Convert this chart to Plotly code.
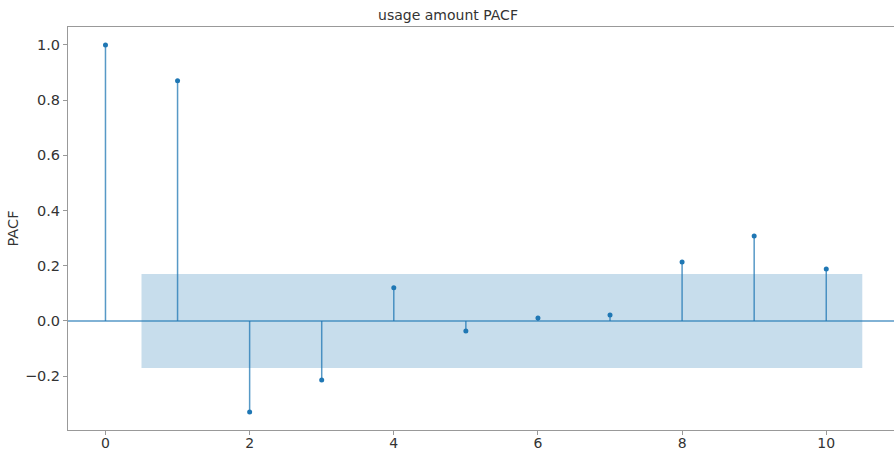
import plotly.graph_objects as go

lags = [0, 1, 2, 3, 4, 5, 6, 7, 8, 9, 10]
pacf = [1.0, 0.87, -0.33, -0.214, 0.12, -0.036, 0.011, 0.022, 0.214, 0.308, 0.188]
conf_lags = [0.5, 10.5]
conf = [0.17, 0.17]
x_ticks = [0, 2, 4, 6, 8, 10]
y_ticks = [-0.2, 0.0, 0.2, 0.4, 0.6, 0.8, 1.0]

blue = "#1f77b4"
font = "DejaVu Sans"

fig = go.Figure()

# confidence band
bx = conf_lags + conf_lags[::-1]
by = conf + [-c for c in conf[::-1]]
fig.add_trace(go.Scatter(x=bx, y=by, fill="toself", mode="none",
                         fillcolor="rgba(31,119,180,0.25)", hoverinfo="skip",
                         showlegend=False))

# stems
sx, sy = [], []
for l, v in zip(lags, pacf):
    sx += [l, l, None]
    sy += [0, v, None]
fig.add_trace(go.Scatter(x=sx, y=sy, mode="lines",
                         line=dict(color=blue, width=1.5), opacity=0.75,
                         hoverinfo="skip", showlegend=False))

# markers
fig.add_trace(go.Scatter(x=lags, y=pacf, mode="markers",
                         marker=dict(color=blue, size=5), showlegend=False))

# zero line
fig.add_shape(type="line", xref="paper", x0=0, x1=1, yref="y", y0=0, y1=0,
              line=dict(color=blue, width=1.5), opacity=0.75)

fig.update_layout(
    width=896, height=453,
    margin=dict(l=68, r=2, t=27, b=23, autoexpand=False),
    paper_bgcolor="white", plot_bgcolor="white",
    font=dict(family=font, size=14, color="#333"),
    title=dict(text="usage amount PACF", x=0.5, xanchor="center",
               y=1 - 15 / 453, yanchor="middle",
               font=dict(family=font, size=14, color="#333")),
    xaxis=dict(range=[-0.52, 10.94], tickvals=x_ticks, showgrid=False,
               zeroline=False, showline=True, linecolor="#999", linewidth=1,
               mirror=True, ticks="outside", ticklen=4, tickcolor="#999",
               ticklabelstandoff=-4,
               tickfont=dict(size=14), automargin=False),
    yaxis=dict(range=[-0.395, 1.065], tickvals=y_ticks,
               ticktext=["\u22120.2", "0.0", "0.2", "0.4", "0.6", "0.8", "1.0"],
               showgrid=False, zeroline=False, showline=True, linecolor="#999",
               linewidth=1, ticks="outside", ticklen=4, tickcolor="#999",
               tickfont=dict(size=14.5), automargin=False,
               title=dict(text="PACF", standoff=2, font=dict(size=14.5))),
)

fig.write_html("out.html", config={"displayModeBar": False},
               post_script="document.body.style.margin='0';document.body.style.overflow='hidden';")
